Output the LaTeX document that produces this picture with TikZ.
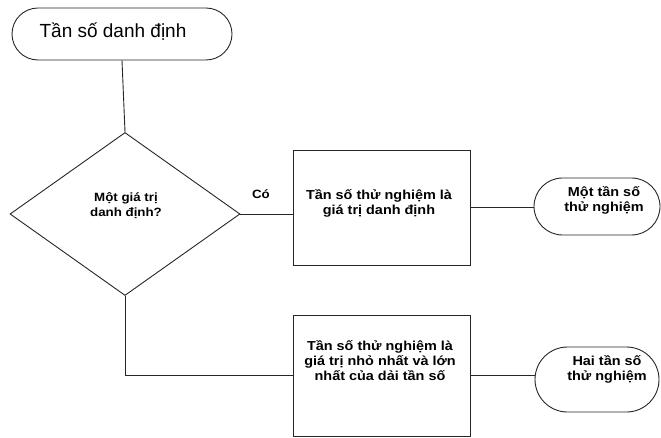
\documentclass[tikz,border=0pt]{standalone}
\usepackage{fontspec}
\setmainfont{Liberation Sans}
\newfontfamily\wf[FakeStretch=1.11]{Liberation Sans}
\usetikzlibrary{shapes.geometric,shapes.misc}
\begin{document}
\begin{tikzpicture}[x=1pt,y=1pt,
  every node/.style={font=\wf\bfseries\fontsize{13}{15}\selectfont, align=center},
  small/.style={font=\wf\bfseries\fontsize{12}{15}\selectfont},
  line/.style={draw=black!85, line width=0.9pt},
  term/.style={rounded rectangle, line, inner sep=0pt},
  procbox/.style={rectangle, line, inner sep=0pt},
  decision/.style={diamond, line, inner sep=0pt}]
\useasboundingbox (0,0) rectangle (661,-438);
\node[term, minimum width=220, minimum height=52] (start) at (122,-34) {};
\node[font=\fontsize{19}{21}\selectfont] (starttext) at (113,-32) {Tần số danh định};
\node[decision, minimum width=230, minimum height=163] (dec) at (125,-214) {};
\node[small] (dectext) at (126,-206) {Một giá trị\\danh định?};
\node[procbox, minimum width=177, minimum height=115] (box1) at (381.5,-207.5) {};
\node (box1text) at (379,-203) {Tần số thử nghiệm là\\giá trị danh định};
\node[procbox, minimum width=177, minimum height=121] (box2) at (381.5,-375.5) {};
\node (box2text) at (380,-361) {Tần số thử nghiệm là\\giá trị nhỏ nhất và lớn\\nhất của dải tần số};
\node[term, minimum width=126, minimum height=57] (end1) at (597,-206.5) {};
\node (end1text) at (604,-200) {Một tần số\\thử nghiệm};
\node[term, minimum width=124, minimum height=65] (end2) at (597,-379.5) {};
\node (end2text) at (607,-369) {Hai tần số\\thử nghiệm};
\node[small] (co) at (261,-194) {Có};
\coordinate (corner) at (dec.south |- box2.west);
\draw[line] (start.south) -- (dec.north);
\draw[line] (dec.east) -- (dec.east -| box1.west);
\draw[line] (box1.east) -- (box1.east -| end1.west);
\draw[line] (dec.south) -- (corner) -- (box2.west);
\draw[line] (box2.east) -- (box2.east -| end2.west);
\end{tikzpicture}
\end{document}
